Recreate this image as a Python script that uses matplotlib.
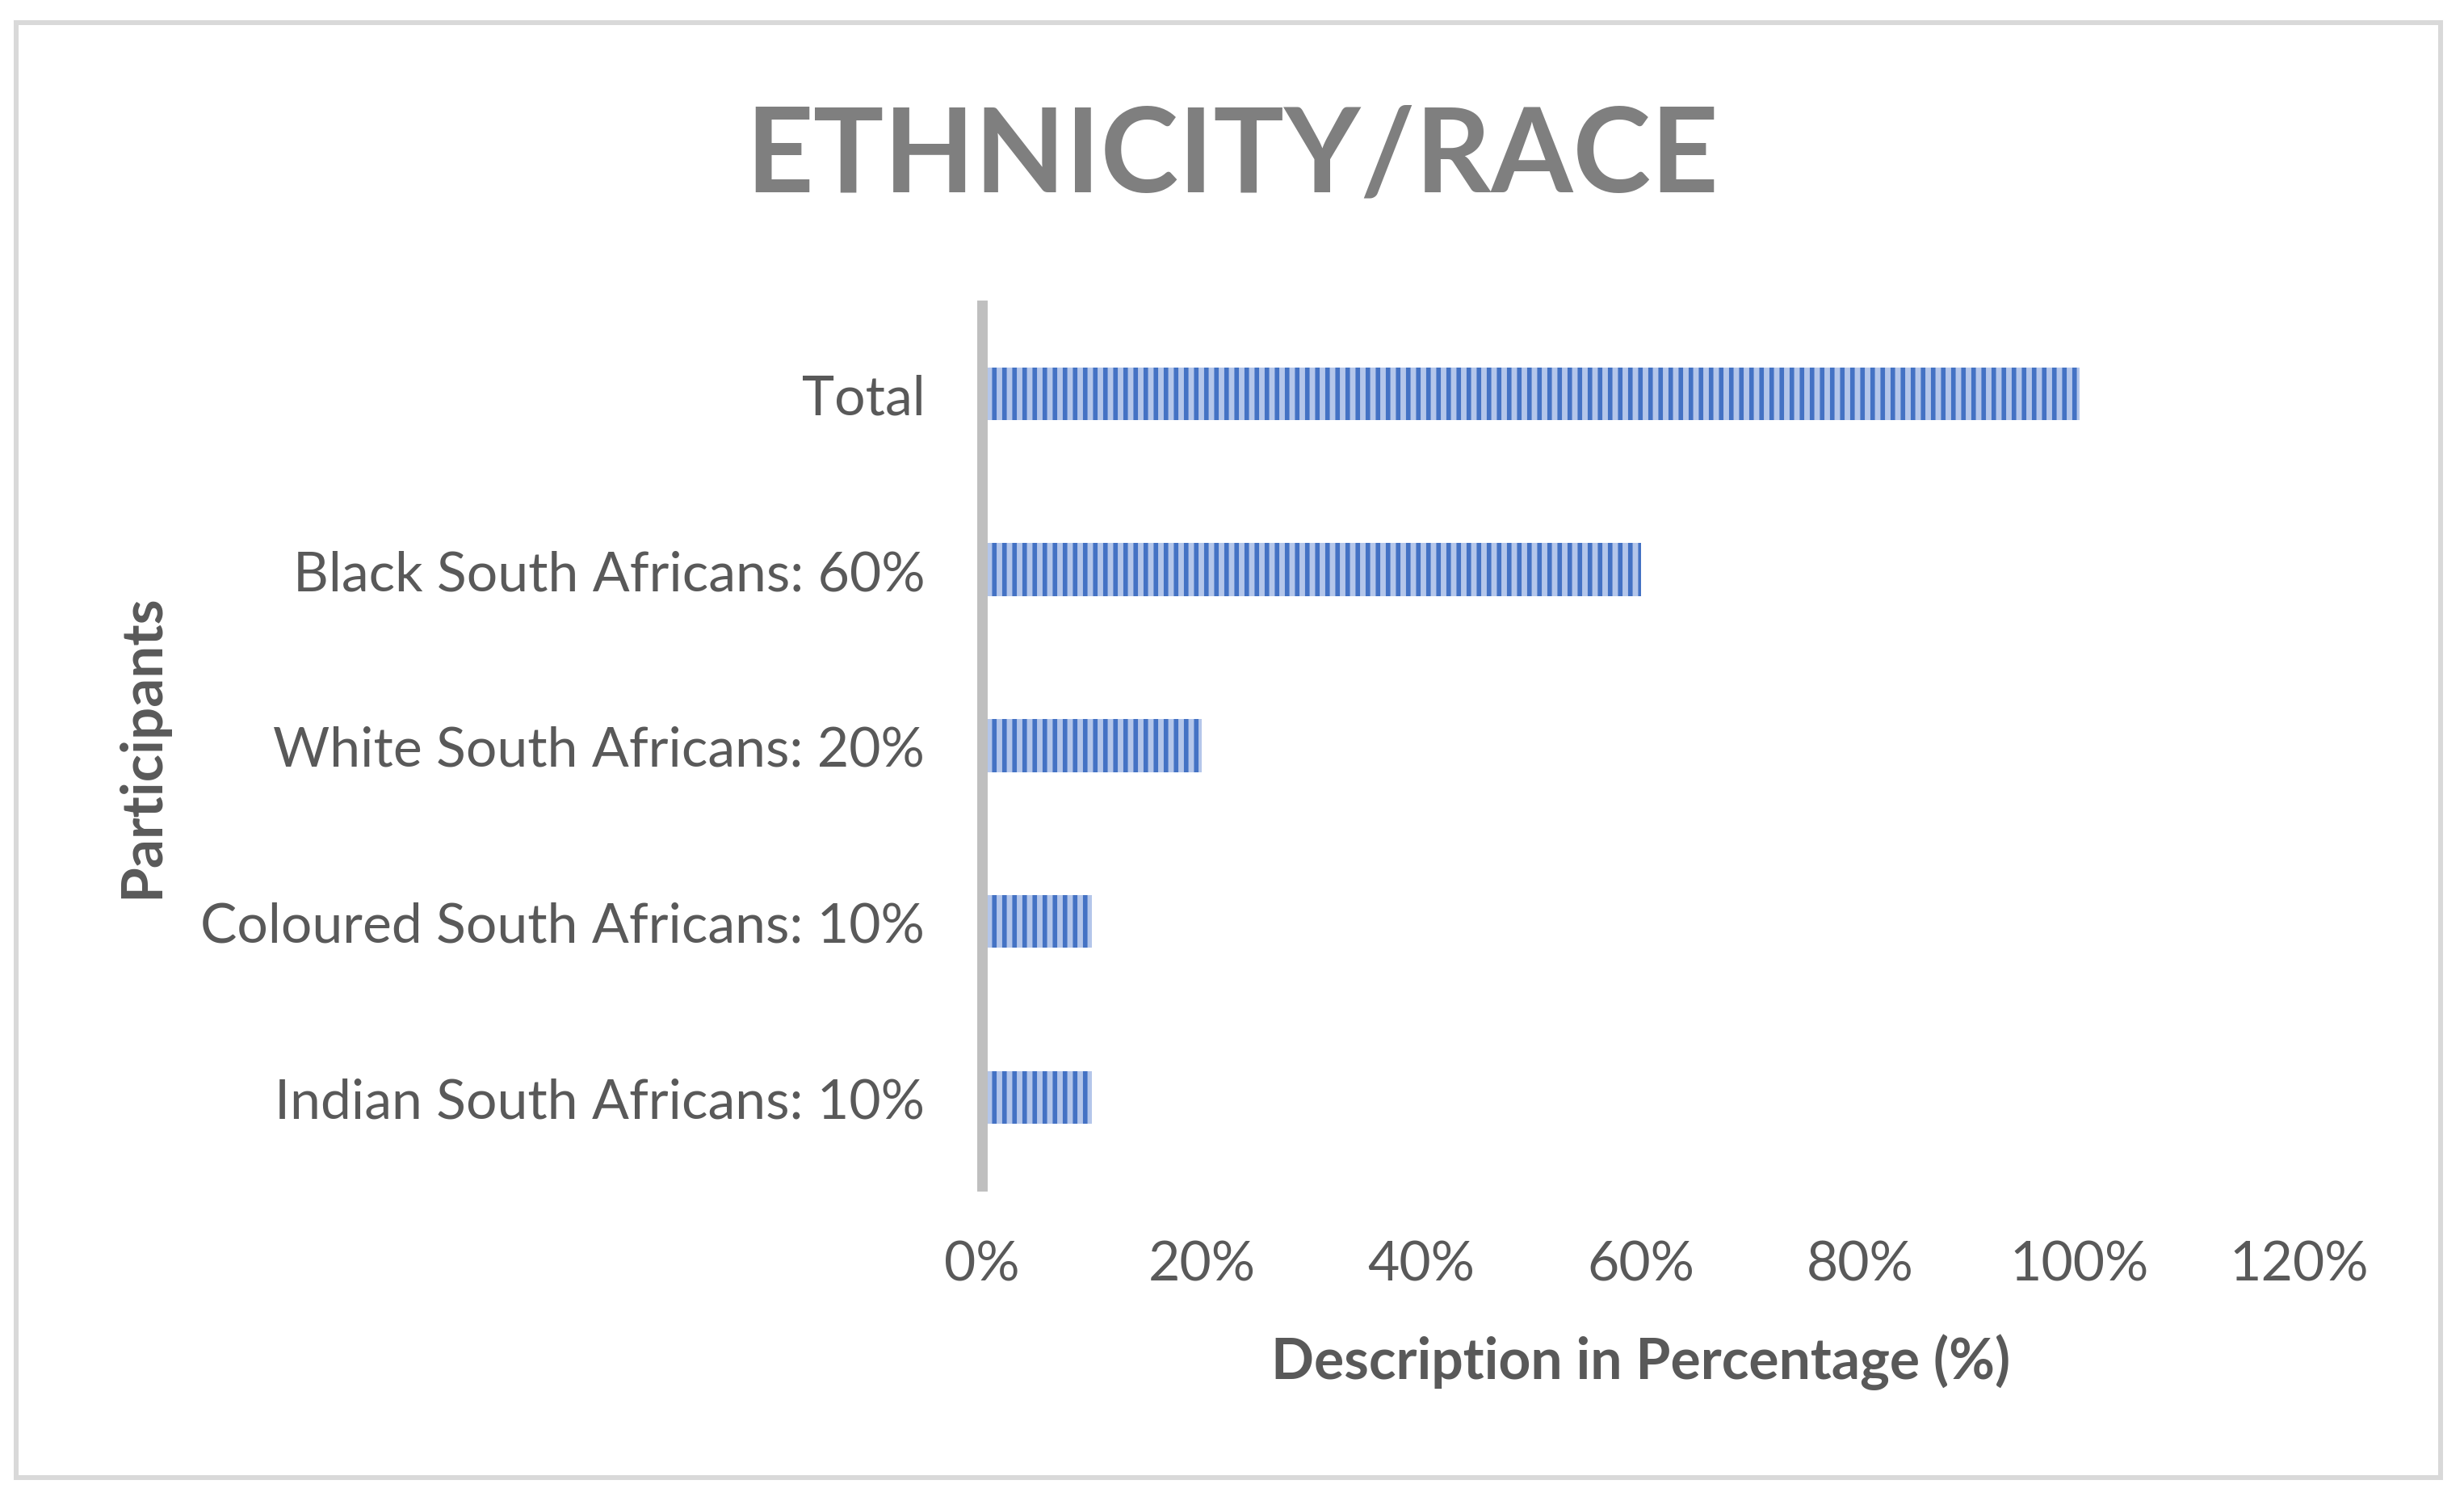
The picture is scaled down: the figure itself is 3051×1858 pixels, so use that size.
import matplotlib.pyplot as plt
from matplotlib.patches import Rectangle
from matplotlib.ticker import PercentFormatter

categories = ['Total', 'Black South Africans: 60%', 'White South Africans: 20%',
              'Coloured South Africans: 10%', 'Indian South Africans: 10%']
values = [100, 60, 20, 10, 10]
xticks = [0, 20, 40, 60, 80, 100, 120]

plt.rcParams['font.family'] = ['Lato', 'DejaVu Sans']
plt.rcParams['hatch.linewidth'] = 2.7

grey = '#595959'

fig = plt.figure(figsize=(20.34, 12.393), dpi=150)
fig.patches.append(Rectangle((20 / 3051, 29 / 1859), 3002 / 3051, 1801 / 1859,
                             transform=fig.transFigure, fill=False,
                             edgecolor='#d9d9d9', linewidth=2.9))

ax = fig.add_axes([0.3986, 0.21, 0.5345, 0.586])
ypos = list(range(len(categories)))
ax.barh(ypos, values, height=0.3, color='#b4c6ea', edgecolor='#4472c4',
        linewidth=0, hatch='||')
ax.set_ylim(len(categories) - 0.5, -0.5)
ax.set_yticks(ypos)
ax.set_yticklabels(categories)
ax.set_xlim(0, 120)
ax.set_xticks(xticks)
ax.xaxis.set_major_formatter(PercentFormatter(decimals=0))

for s in ['top', 'right', 'bottom']:
    ax.spines[s].set_visible(False)
ax.spines['left'].set_color('#bfbfbf')
ax.spines['left'].set_linewidth(6.2)
ax.tick_params(axis='both', length=0, labelsize=32.6, labelcolor=grey)
ax.tick_params(axis='y', pad=34)
ax.tick_params(axis='x', pad=32)

ax.set_xlabel('Description in Percentage (%)', fontsize=33.4, fontweight='bold',
              color=grey, labelpad=26)
ax.set_ylabel('Participants', fontsize=34, fontweight='bold', color=grey)
ax.yaxis.set_label_coords(-0.618, 0.5)

fig.text(0.5, 0.895, 'ETHNICITY/RACE', ha='center', va='center', fontsize=70,
         fontweight='bold', color='#7f7f7f')

fig.savefig('out.png', dpi=150)
